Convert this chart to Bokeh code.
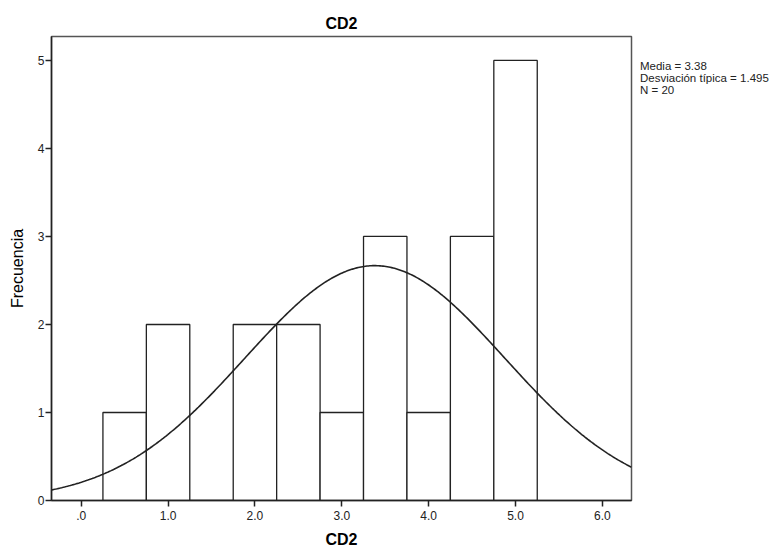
import numpy as np
from bokeh.plotting import figure
from bokeh.models import ColumnDataSource, FixedTicker, Range1d, Legend, LegendItem
from bokeh.embed import file_html
from bokeh.resources import INLINE

# ---- data ----
bin_centers = [0.5, 1.0, 1.5, 2.0, 2.5, 3.0, 3.5, 4.0, 4.5, 5.0]
counts = [1, 2, 0, 2, 2, 1, 3, 1, 3, 5]
bin_width = 0.5
mean = 3.38
std = 1.495
n = 20
x_ticks = [0, 1, 2, 3, 4, 5, 6]
x_tick_labels = [".0", "1.0", "2.0", "3.0", "4.0", "5.0", "6.0"]
y_ticks = [0, 1, 2, 3, 4, 5]
stats_lines = ["Media = 3.38", "Desviación típica = 1.495", "N = 20"]

FONT = "Liberation Sans"

src = ColumnDataSource(dict(
    left=[c - bin_width / 2 for c in bin_centers],
    right=[c + bin_width / 2 for c in bin_centers],
    top=counts,
    bottom=[0] * len(counts),
))

p = figure(frame_width=580, frame_height=464, output_backend="svg", toolbar_location=None,
           x_range=Range1d(-0.342, 6.335), y_range=Range1d(0, 5.272),
           min_border_left=51, min_border_right=147, min_border_top=36,
           min_border_bottom=50, title="CD2")

p.title.align = "center"
p.title.text_font = FONT
p.title.text_font_size = "16px"
p.title.text_font_style = "bold"
p.title.text_color = "#000000"
p.title.offset = 0

p.background_fill_color = "white"
p.border_fill_color = "white"
p.outline_line_color = "#555555"
p.outline_line_width = 1.5
p.xgrid.visible = False
p.ygrid.visible = False

p.quad(left="left", right="right", top="top", bottom="bottom", source=src,
       fill_color="white", line_color="#222222", line_width=1.3)

xs = np.linspace(-0.342, 6.335, 400)
ys = n * bin_width * np.exp(-0.5 * ((xs - mean) / std) ** 2) / (std * np.sqrt(2 * np.pi))
p.line(xs, ys, line_color="#222222", line_width=1.6)

p.xaxis.ticker = FixedTicker(ticks=x_ticks)
p.xaxis.major_label_overrides = {t: l for t, l in zip(x_ticks, x_tick_labels)}
p.yaxis.ticker = FixedTicker(ticks=y_ticks)

for ax in (p.xaxis[0], p.yaxis[0]):
    ax.minor_tick_line_color = None
    ax.major_tick_in = 0
    ax.major_tick_out = 6
    ax.axis_line_color = "#222222"
    ax.axis_line_width = 1.5
    ax.major_tick_line_color = "#222222"
    ax.major_tick_line_width = 1.5
    ax.major_label_text_font = FONT
    ax.major_label_text_font_size = "12px"
    ax.major_label_text_color = "#222222"
    ax.axis_label_text_font = FONT
    ax.axis_label_text_color = "#000000"

p.xaxis.axis_label = "CD2"
p.xaxis.axis_label_text_font_size = "16px"
p.xaxis.axis_label_text_font_style = "bold"
p.xaxis.major_label_standoff = 4
p.xaxis.axis_label_standoff = 8

p.yaxis.axis_label = "Frecuencia"
p.yaxis.axis_label_text_font_size = "16px"
p.yaxis.axis_label_text_font_style = "normal"
p.yaxis.major_label_standoff = 1
p.yaxis.axis_label_standoff = 9

# statistics box rendered as a borderless legend in the right panel
dummy = p.line([mean], [0], line_alpha=0)
items = [LegendItem(label="\n".join(stats_lines), renderers=[dummy])]
leg = Legend(items=items, location=(9, 404), orientation="vertical",
             glyph_width=0, glyph_height=10, label_height=10, label_standoff=0,
             spacing=0, padding=0, margin=0, border_line_color=None,
             background_fill_alpha=0, label_text_font=FONT,
             label_text_font_size="11.5px", label_text_color="#222222",
             label_text_line_height=0.87)
p.add_layout(leg, "right")

open("out.html", "w").write(file_html(p, INLINE))
